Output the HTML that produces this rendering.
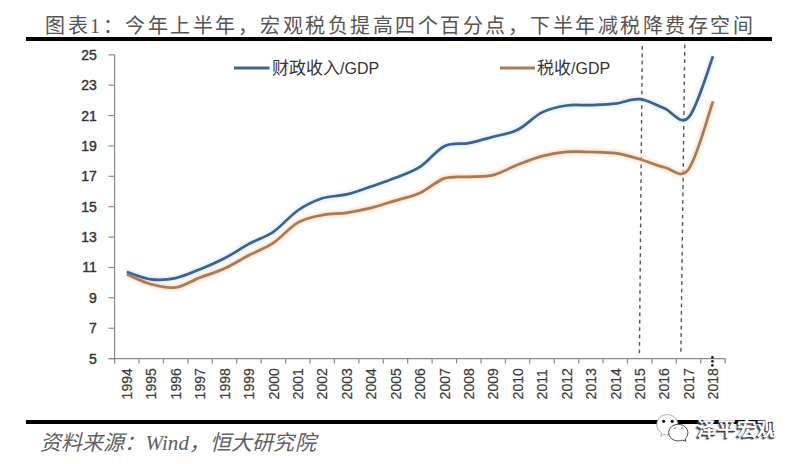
<!DOCTYPE html>
<html lang="zh-CN"><head><meta charset="utf-8">
<style>
html,body{margin:0;padding:0;background:#fff;}
body{width:800px;height:464px;position:relative;overflow:hidden;}
.t{position:absolute;white-space:nowrap;line-height:1;}
#title{left:45px;top:15.5px;font-family:"Liberation Serif",serif;font-size:20px;font-weight:300;letter-spacing:2.5px;color:#555;}
.bar{position:absolute;left:26px;width:746px;height:4px;background:#000;}
.leg{font-family:"Liberation Sans",sans-serif;font-size:17px;color:#333;}
.leg span{font-size:16px;}
#src{left:40px;top:432.5px;font-family:"Liberation Serif",serif;font-size:21px;font-style:italic;letter-spacing:0.1px;color:#606060;}

#wm{left:696.5px;top:419.5px;font-family:"Liberation Sans",sans-serif;font-size:19.5px;font-weight:bold;color:#fff;letter-spacing:0px;text-shadow:-1px 1px 0.5px #333,-1.6px 1.6px 1px rgba(60,60,60,0.7);}
</style></head><body>
<div class="t" id="title">图表1：今年上半年，宏观税负提高四个百分点，下半年减税降费存空间</div>
<div class="bar" style="top:37px"></div>
<svg width="800" height="464" viewBox="0 0 800 464" style="position:absolute;left:0;top:0">
<g stroke="#8a8a8a" stroke-width="1.2" fill="none"><line x1="114.6" y1="54.8" x2="114.6" y2="363.5"/><line x1="108.5" y1="358.6" x2="725.5" y2="358.6"/><line x1="108.5" y1="358.6" x2="114.6" y2="358.6"/><line x1="108.5" y1="328.2" x2="114.6" y2="328.2"/><line x1="108.5" y1="297.8" x2="114.6" y2="297.8"/><line x1="108.5" y1="267.5" x2="114.6" y2="267.5"/><line x1="108.5" y1="237.1" x2="114.6" y2="237.1"/><line x1="108.5" y1="206.7" x2="114.6" y2="206.7"/><line x1="108.5" y1="176.3" x2="114.6" y2="176.3"/><line x1="108.5" y1="145.9" x2="114.6" y2="145.9"/><line x1="108.5" y1="115.6" x2="114.6" y2="115.6"/><line x1="108.5" y1="85.2" x2="114.6" y2="85.2"/><line x1="108.5" y1="54.8" x2="114.6" y2="54.8"/><line x1="114.6" y1="358.6" x2="114.6" y2="363.5"/><line x1="139.0" y1="358.6" x2="139.0" y2="363.5"/><line x1="163.5" y1="358.6" x2="163.5" y2="363.5"/><line x1="187.9" y1="358.6" x2="187.9" y2="363.5"/><line x1="212.3" y1="358.6" x2="212.3" y2="363.5"/><line x1="236.7" y1="358.6" x2="236.7" y2="363.5"/><line x1="261.2" y1="358.6" x2="261.2" y2="363.5"/><line x1="285.6" y1="358.6" x2="285.6" y2="363.5"/><line x1="310.0" y1="358.6" x2="310.0" y2="363.5"/><line x1="334.4" y1="358.6" x2="334.4" y2="363.5"/><line x1="358.9" y1="358.6" x2="358.9" y2="363.5"/><line x1="383.3" y1="358.6" x2="383.3" y2="363.5"/><line x1="407.7" y1="358.6" x2="407.7" y2="363.5"/><line x1="432.1" y1="358.6" x2="432.1" y2="363.5"/><line x1="456.6" y1="358.6" x2="456.6" y2="363.5"/><line x1="481.0" y1="358.6" x2="481.0" y2="363.5"/><line x1="505.4" y1="358.6" x2="505.4" y2="363.5"/><line x1="529.8" y1="358.6" x2="529.8" y2="363.5"/><line x1="554.3" y1="358.6" x2="554.3" y2="363.5"/><line x1="578.7" y1="358.6" x2="578.7" y2="363.5"/><line x1="603.1" y1="358.6" x2="603.1" y2="363.5"/><line x1="627.5" y1="358.6" x2="627.5" y2="363.5"/><line x1="652.0" y1="358.6" x2="652.0" y2="363.5"/><line x1="676.4" y1="358.6" x2="676.4" y2="363.5"/><line x1="700.8" y1="358.6" x2="700.8" y2="363.5"/><line x1="725.2" y1="358.6" x2="725.2" y2="363.5"/></g>
<g font-family="Liberation Sans, sans-serif" font-size="14" fill="#333" stroke="#333" stroke-width="0.4" text-anchor="end"><text x="96.8" y="363.5">5</text><text x="96.8" y="333.1">7</text><text x="96.8" y="302.7">9</text><text x="96.8" y="272.4">11</text><text x="96.8" y="242.0">13</text><text x="96.8" y="211.6">15</text><text x="96.8" y="181.2">17</text><text x="96.8" y="150.8">19</text><text x="96.8" y="120.5">21</text><text x="96.8" y="90.1">23</text><text x="96.8" y="59.7">25</text></g>
<g font-family="Liberation Sans, sans-serif" font-size="14" fill="#3a3a3a" stroke="#3a3a3a" stroke-width="0.2" text-anchor="start"><text transform="translate(132.0,399.4) rotate(-90)">1994</text><text transform="translate(156.4,399.4) rotate(-90)">1995</text><text transform="translate(180.9,399.4) rotate(-90)">1996</text><text transform="translate(205.3,399.4) rotate(-90)">1997</text><text transform="translate(229.7,399.4) rotate(-90)">1998</text><text transform="translate(254.1,399.4) rotate(-90)">1999</text><text transform="translate(278.6,399.4) rotate(-90)">2000</text><text transform="translate(303.0,399.4) rotate(-90)">2001</text><text transform="translate(327.4,399.4) rotate(-90)">2002</text><text transform="translate(351.8,399.4) rotate(-90)">2003</text><text transform="translate(376.3,399.4) rotate(-90)">2004</text><text transform="translate(400.7,399.4) rotate(-90)">2005</text><text transform="translate(425.1,399.4) rotate(-90)">2006</text><text transform="translate(449.6,399.4) rotate(-90)">2007</text><text transform="translate(474.0,399.4) rotate(-90)">2008</text><text transform="translate(498.4,399.4) rotate(-90)">2009</text><text transform="translate(522.8,399.4) rotate(-90)">2010</text><text transform="translate(547.3,399.4) rotate(-90)">2011</text><text transform="translate(571.7,399.4) rotate(-90)">2012</text><text transform="translate(596.1,399.4) rotate(-90)">2013</text><text transform="translate(620.5,399.4) rotate(-90)">2014</text><text transform="translate(645.0,399.4) rotate(-90)">2015</text><text transform="translate(669.4,399.4) rotate(-90)">2016</text><text transform="translate(693.8,399.4) rotate(-90)">2017</text><text transform="translate(718.2,399.4) rotate(-90)">2018</text></g>
<g fill="#222"><circle cx="712.4" cy="357.3" r="1.35"/><circle cx="712.4" cy="361.35" r="1.35"/><circle cx="712.4" cy="365.4" r="1.35"/></g>
<g stroke="#555" stroke-width="1.4" stroke-dasharray="3.8 3.6" fill="none">
<line x1="642.3" y1="46" x2="639.4" y2="356"/>
<line x1="684.8" y1="44.5" x2="680.9" y2="353"/>
</g>
<defs><filter id="hb" x="-5%" y="-20%" width="110%" height="140%"><feGaussianBlur stdDeviation="1.6"/></filter></defs>
<path d="M126.8,272.0 C130.9,273.2 143.1,278.3 151.2,279.3 C159.4,280.3 167.5,279.8 175.7,278.1 C183.8,276.4 191.9,272.6 200.1,269.3 C208.2,266.0 216.4,262.6 224.5,258.3 C232.7,254.1 240.8,248.3 248.9,243.9 C257.1,239.5 265.2,237.3 273.4,231.8 C281.5,226.2 289.7,216.1 297.8,210.5 C305.9,204.9 314.1,201.0 322.2,198.3 C330.4,195.7 338.5,196.4 346.6,194.4 C354.8,192.4 362.9,189.3 371.1,186.5 C379.2,183.7 387.4,181.1 395.5,177.8 C403.6,174.6 411.8,172.2 419.9,166.9 C428.1,161.6 436.2,150.2 444.4,146.2 C452.5,142.3 460.6,144.6 468.8,143.1 C476.9,141.5 485.1,139.0 493.2,136.8 C501.3,134.6 509.5,133.9 517.6,129.8 C525.8,125.8 533.9,116.4 542.1,112.4 C550.2,108.3 558.3,106.7 566.5,105.5 C574.6,104.3 582.8,105.4 590.9,105.1 C599.0,104.7 607.2,104.5 615.3,103.6 C623.5,102.6 631.6,98.4 639.8,99.2 C647.9,99.9 656.0,105.2 664.2,108.3 C672.3,111.3 680.5,126.2 688.6,117.5 C696.8,108.9 709.0,66.5 713.0,56.3" stroke="#c9e8f7" stroke-width="6" fill="none" stroke-linejoin="round" opacity="0.6" filter="url(#hb)"/>
<path d="M126.8,274.3 C130.9,275.9 143.1,282.0 151.2,284.2 C159.4,286.4 167.5,288.6 175.7,287.5 C183.8,286.4 191.9,280.8 200.1,277.6 C208.2,274.5 216.4,272.2 224.5,268.5 C232.7,264.8 240.8,259.6 248.9,255.3 C257.1,251.0 265.2,248.3 273.4,242.9 C281.5,237.4 289.7,227.3 297.8,222.6 C305.9,218.0 314.1,216.7 322.2,215.1 C330.4,213.4 338.5,214.0 346.6,212.8 C354.8,211.6 362.9,209.9 371.1,207.9 C379.2,205.9 387.4,203.1 395.5,200.6 C403.6,198.1 411.8,196.7 419.9,193.0 C428.1,189.3 436.2,181.2 444.4,178.4 C452.5,175.7 460.6,177.3 468.8,176.8 C476.9,176.2 485.1,177.1 493.2,175.1 C501.3,173.1 509.5,167.9 517.6,164.8 C525.8,161.6 533.9,158.3 542.1,156.1 C550.2,154.0 558.3,152.5 566.5,151.9 C574.6,151.2 582.8,151.8 590.9,152.0 C599.0,152.2 607.2,152.0 615.3,153.2 C623.5,154.4 631.6,156.8 639.8,159.2 C647.9,161.5 656.0,165.5 664.2,167.2 C672.3,168.9 680.5,180.1 688.6,169.2 C696.8,158.2 709.0,112.7 713.0,101.4" stroke="#f6cfad" stroke-width="6" fill="none" stroke-linejoin="round" opacity="0.6" filter="url(#hb)"/>
<path d="M126.8,272.0 C130.9,273.2 143.1,278.3 151.2,279.3 C159.4,280.3 167.5,279.8 175.7,278.1 C183.8,276.4 191.9,272.6 200.1,269.3 C208.2,266.0 216.4,262.6 224.5,258.3 C232.7,254.1 240.8,248.3 248.9,243.9 C257.1,239.5 265.2,237.3 273.4,231.8 C281.5,226.2 289.7,216.1 297.8,210.5 C305.9,204.9 314.1,201.0 322.2,198.3 C330.4,195.7 338.5,196.4 346.6,194.4 C354.8,192.4 362.9,189.3 371.1,186.5 C379.2,183.7 387.4,181.1 395.5,177.8 C403.6,174.6 411.8,172.2 419.9,166.9 C428.1,161.6 436.2,150.2 444.4,146.2 C452.5,142.3 460.6,144.6 468.8,143.1 C476.9,141.5 485.1,139.0 493.2,136.8 C501.3,134.6 509.5,133.9 517.6,129.8 C525.8,125.8 533.9,116.4 542.1,112.4 C550.2,108.3 558.3,106.7 566.5,105.5 C574.6,104.3 582.8,105.4 590.9,105.1 C599.0,104.7 607.2,104.5 615.3,103.6 C623.5,102.6 631.6,98.4 639.8,99.2 C647.9,99.9 656.0,105.2 664.2,108.3 C672.3,111.3 680.5,126.2 688.6,117.5 C696.8,108.9 709.0,66.5 713.0,56.3" stroke="#41618A" stroke-width="2.7" fill="none" stroke-linejoin="round" stroke-linecap="butt"/>
<path d="M126.8,274.3 C130.9,275.9 143.1,282.0 151.2,284.2 C159.4,286.4 167.5,288.6 175.7,287.5 C183.8,286.4 191.9,280.8 200.1,277.6 C208.2,274.5 216.4,272.2 224.5,268.5 C232.7,264.8 240.8,259.6 248.9,255.3 C257.1,251.0 265.2,248.3 273.4,242.9 C281.5,237.4 289.7,227.3 297.8,222.6 C305.9,218.0 314.1,216.7 322.2,215.1 C330.4,213.4 338.5,214.0 346.6,212.8 C354.8,211.6 362.9,209.9 371.1,207.9 C379.2,205.9 387.4,203.1 395.5,200.6 C403.6,198.1 411.8,196.7 419.9,193.0 C428.1,189.3 436.2,181.2 444.4,178.4 C452.5,175.7 460.6,177.3 468.8,176.8 C476.9,176.2 485.1,177.1 493.2,175.1 C501.3,173.1 509.5,167.9 517.6,164.8 C525.8,161.6 533.9,158.3 542.1,156.1 C550.2,154.0 558.3,152.5 566.5,151.9 C574.6,151.2 582.8,151.8 590.9,152.0 C599.0,152.2 607.2,152.0 615.3,153.2 C623.5,154.4 631.6,156.8 639.8,159.2 C647.9,161.5 656.0,165.5 664.2,167.2 C672.3,168.9 680.5,180.1 688.6,169.2 C696.8,158.2 709.0,112.7 713.0,101.4" stroke="#A87A56" stroke-width="2.7" fill="none" stroke-linejoin="round" stroke-linecap="butt"/>
<line x1="234" y1="68" x2="269.5" y2="68" stroke="#45658C" stroke-width="3"/>
<line x1="500" y1="68" x2="535" y2="68" stroke="#A97B58" stroke-width="3"/>
</svg>
<div class="t leg" style="left:272px;top:59.5px">财政收入<span>/GDP</span></div>
<div class="t leg" style="left:537px;top:59.5px">税收<span>/GDP</span></div>
<div class="bar" style="top:420px"></div>
<div class="t" id="src">资料来源：Wind，恒大研究院</div>
<svg width="800" height="464" viewBox="0 0 800 464" style="position:absolute;left:0;top:0">
<path d="M667.3,414.6 C673.5,414.6 677.9,419 677.9,424.8 C677.9,430.5 673.5,435 667.3,435 C665.9,435 664.6,434.8 663.4,434.3 L660.8,436.2 L661.5,432.6 C658.4,430.8 656.8,428 656.8,424.8 C656.8,419 661.2,414.6 667.3,414.6 Z" fill="#fff" stroke="#999" stroke-width="0.8"/>
<circle cx="663.6" cy="421.3" r="1.6" fill="#111"/>
<circle cx="672.2" cy="421.3" r="1.6" fill="#111"/>
<path d="M678.3,424.3 C683.6,424.3 687.9,428 687.9,432.6 C687.9,435 686.9,437 685.2,438.5 L685.9,441.3 L682.6,440.1 C681.3,440.6 679.9,440.9 678.3,440.9 C673,440.9 668.7,437.2 668.7,432.6 C668.7,428 673,424.3 678.3,424.3 Z" fill="#fff" stroke="#333" stroke-width="0.9"/>
<path d="M673.8,428.2 h2 M681,428.2 h2" stroke="#666" stroke-width="1"/>
</svg>
<div class="t" id="wm">泽平宏观</div>
</body></html>
